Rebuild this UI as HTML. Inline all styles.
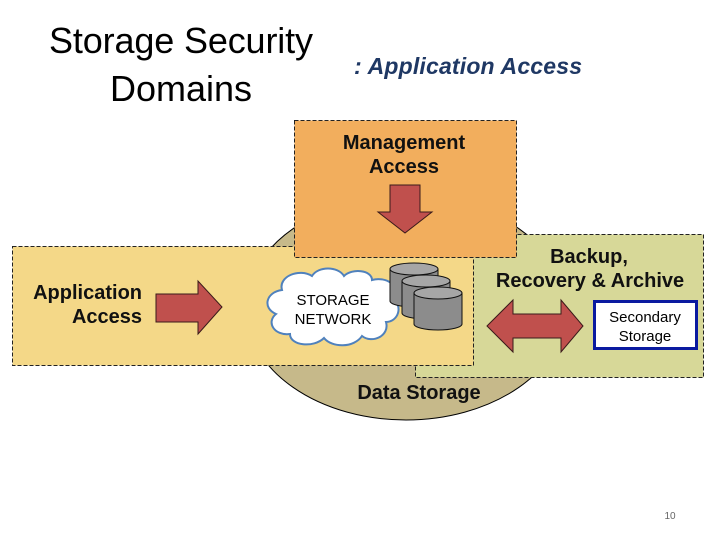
<!DOCTYPE html>
<html><head><meta charset="utf-8"><style>
html,body{margin:0;padding:0;background:#fff;}
svg{display:block;}
</style></head><body>
<svg width="720" height="540" viewBox="0 0 720 540" xmlns="http://www.w3.org/2000/svg">
<text x="181" y="53" font-family="Liberation Sans, sans-serif" font-size="36" text-anchor="middle" fill="#000" textLength="264">Storage Security</text>
<text x="181" y="101" font-family="Liberation Sans, sans-serif" font-size="36" text-anchor="middle" fill="#000">Domains</text>
<text x="354" y="74" font-family="Liberation Sans, sans-serif" font-size="23" font-style="italic" font-weight="bold" fill="#1f3864" textLength="228">: Application Access</text>

<ellipse cx="406" cy="308" rx="160" ry="112" fill="#c6b98a" stroke="#000" stroke-width="1"/>
<rect x="415.5" y="234.5" width="288" height="143" fill="#d7d898" stroke="#222" stroke-dasharray="4,2"/>
<rect x="12.5" y="246.5" width="461" height="119" fill="#f4d888" stroke="#222" stroke-dasharray="4,2"/>
<rect x="294.5" y="120.5" width="222" height="137" fill="#f2ae5d" stroke="#222" stroke-dasharray="4,2"/>

<g font-family="Liberation Sans, sans-serif" font-weight="bold" fill="#111">
<text x="404" y="149" font-size="20" text-anchor="middle">Management</text>
<text x="404" y="173" font-size="20" text-anchor="middle">Access</text>
<text x="142" y="299" font-size="20" text-anchor="end">Application</text>
<text x="142" y="323" font-size="20" text-anchor="end">Access</text>
<text x="589" y="263" font-size="20" text-anchor="middle">Backup,</text>
<text x="590" y="287" font-size="20" text-anchor="middle">Recovery &amp; Archive</text>
<text x="419" y="399" font-size="20" text-anchor="middle">Data Storage</text>
</g>

<polygon points="390,185 420,185 420,212 432,212 405,233 378,212 390,212" fill="#c0504d" stroke="#3a1a1a"/>
<polygon points="156,294 198,294 198,281 222,307 198,334 198,322 156,322" fill="#c0504d" stroke="#3a1a1a"/>
<polygon points="487,326 513,300 513,314 561,314 561,300 583,326 561,352 561,338 513,338 513,352" fill="#c0504d" stroke="#3a1a1a"/>

<rect x="594.5" y="301.5" width="102" height="47" fill="#fff" stroke="#0a1aa0" stroke-width="3"/>
<text x="645" y="322" font-family="Liberation Sans, sans-serif" font-size="15" text-anchor="middle">Secondary</text>
<text x="645" y="341" font-family="Liberation Sans, sans-serif" font-size="15" text-anchor="middle">Storage</text>

<path d="M282,290 C278,276 300,268 312,276 C318,266 338,266 344,276 C352,268 372,270 372,280 C386,276 402,286 392,298 C404,306 398,322 386,322 C390,336 372,344 362,336 C354,348 332,348 324,338 C314,348 290,346 290,334 C274,336 266,322 276,314 C262,308 266,292 282,290 Z" fill="#fff" stroke="#4f81bd" stroke-width="2"/>
<text x="333" y="305" font-family="Liberation Sans, sans-serif" font-size="15" text-anchor="middle">STORAGE</text>
<text x="333" y="324" font-family="Liberation Sans, sans-serif" font-size="15" text-anchor="middle">NETWORK</text>

<g stroke="#111" stroke-width="1">
<path d="M390,269 L390,301 A24,6 0 0 0 438,301 L438,269" fill="#8c8c8c"/>
<ellipse cx="414" cy="269" rx="24" ry="6" fill="#a6a6a6"/>
<path d="M402,281 L402,313 A24,6 0 0 0 450,313 L450,281" fill="#8c8c8c"/>
<ellipse cx="426" cy="281" rx="24" ry="6" fill="#a6a6a6"/>
<path d="M414,293 L414,324 A24,6 0 0 0 462,324 L462,293" fill="#8c8c8c"/>
<ellipse cx="438" cy="293" rx="24" ry="6" fill="#a6a6a6"/>
</g>

<text x="670" y="519" font-family="Liberation Sans, sans-serif" font-size="10" text-anchor="middle" fill="#666">10</text>
</svg>
</body></html>
